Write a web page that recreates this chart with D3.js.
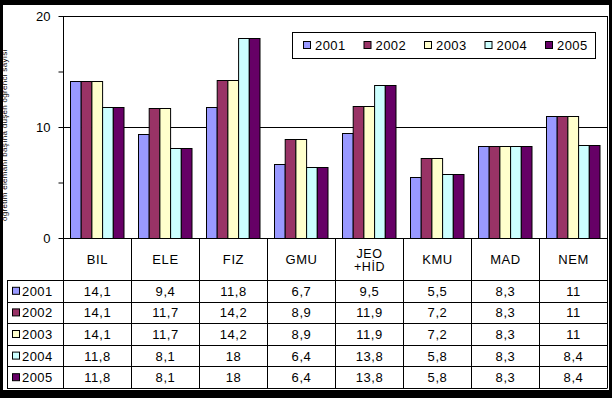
<!DOCTYPE html>
<html lang="tr">
<head>
<meta charset="UTF-8">
<title>Bölümlere göre oranlar 2001-2005</title>
<script src="https://d3js.org/d3.v7.min.js"></script>
<style>
    body { margin: 0; padding: 0; background: #000; }
    svg text { font-family: "Liberation Sans", Arial, sans-serif; fill: #000; }
</style>
</head>
<body>
<div id="chart"></div>
<script>
    // chart data
    const categories = ["BIL", "ELE", "FIZ", "GMU", "JEO\n+HİD", "KMU", "MAD", "NEM"];
    const years = ["2001", "2002", "2003", "2004", "2005"];
    const s2001 = [14.1, 9.4, 11.8, 6.7, 9.5, 5.5, 8.3, 11];
    const s2002 = [14.1, 11.7, 14.2, 8.9, 11.9, 7.2, 8.3, 11];
    const s2003 = [14.1, 11.7, 14.2, 8.9, 11.9, 7.2, 8.3, 11];
    const s2004 = [11.8, 8.1, 18, 6.4, 13.8, 5.8, 8.3, 8.4];
    const s2005 = [11.8, 8.1, 18, 6.4, 13.8, 5.8, 8.3, 8.4];
    const yTickLabels = [0, 10, 20];
    const yMinorTicks = [5, 15];
    const yTitle = "öğretim elemanı başına düşen öğrenci sayısı";

    const series = [s2001, s2002, s2003, s2004, s2005];
    const colors = ["#9999FF", "#993366", "#FFFFCC", "#CCFFFF", "#660066"];

    const W = 612, H = 398;
    const plot = { left: 63.5, right: 607.5, top: 16, bottom: 238 };
    const tableBottom = 388, headerBottom = 280;

    const svg = d3.select("#chart").append("svg")
        .attr("width", W).attr("height", H);

    // white chart area inside black frame
    svg.append("rect")
        .attr("x", 3).attr("y", 5)
        .attr("width", 606).attr("height", 385)
        .attr("fill", "#fff");

    svg.append("clipPath").attr("id", "inner")
        .append("rect")
        .attr("x", 3).attr("y", 5)
        .attr("width", 606).attr("height", 385);

    const x = d3.scaleBand()
        .domain(categories)
        .range([plot.left, plot.right]);

    const xs = d3.scaleBand()
        .domain(years)
        .range([7, x.bandwidth() - 7.5]);

    const y = d3.scaleLinear()
        .domain([0, 20])
        .range([plot.bottom, plot.top]);

    // gridlines
    svg.append("g")
        .selectAll("line")
        .data(yTickLabels.filter(d => d > 0))
        .enter().append("line")
        .attr("x1", plot.left).attr("x2", plot.right)
        .attr("y1", d => Math.round(y(d)) + 0.5)
        .attr("y2", d => Math.round(y(d)) + 0.5)
        .attr("stroke", "#000");

    // bars
    const groups = svg.append("g")
        .selectAll("g")
        .data(categories)
        .enter().append("g")
        .attr("transform", d => `translate(${x(d)},0)`);

    groups.selectAll("rect")
        .data((c, i) => years.map((yr, k) => ({ yr: yr, v: series[k][i], k: k })))
        .enter().append("rect")
        .attr("x", d => xs(d.yr))
        .attr("y", d => Math.round(y(d.v)) + 0.5)
        .attr("width", xs.bandwidth())
        .attr("height", d => Math.round(y(0)) - Math.round(y(d.v)))
        .attr("fill", d => colors[d.k])
        .attr("stroke", "#000")
        .attr("stroke-width", 1);

    // right border of plot
    svg.append("line")
        .attr("x1", plot.right).attr("x2", plot.right)
        .attr("y1", plot.top).attr("y2", tableBottom)
        .attr("stroke", "#000");

    // y axis
    const yAxis = d3.axisLeft(y)
        .tickValues(yTickLabels.concat(yMinorTicks))
        .tickSize(5)
        .tickPadding(8)
        .tickFormat(d => yTickLabels.includes(d) ? d : "");

    const ay = svg.append("g")
        .attr("transform", `translate(${plot.left},0)`)
        .call(yAxis);
    ay.select(".domain").remove();
    ay.selectAll("line").attr("stroke", "#000");
    ay.selectAll("text")
        .attr("font-size", 13)
        .attr("font-family", "Liberation Sans, Arial, sans-serif");

    // axis line runs down through the table
    svg.append("line")
        .attr("x1", plot.left).attr("x2", plot.left)
        .attr("y1", plot.top).attr("y2", tableBottom)
        .attr("stroke", "#000");

    // y title (small, rotated, partly cut by the frame)
    svg.append("g").attr("clip-path", "url(#inner)")
        .append("text")
        .attr("transform", `translate(7,${(plot.top + plot.bottom) / 2 + 8}) rotate(-90)`)
        .attr("text-anchor", "middle")
        .attr("font-size", 8)
        .attr("letter-spacing", 0.3)
        .text(yTitle);

    // data table
    const rowY = d3.scaleBand()
        .domain(years)
        .range([headerBottom, tableBottom]);

    const table = svg.append("g");

    // category separators
    table.selectAll("line.sep")
        .data(categories.slice(1))
        .enter().append("line")
        .attr("class", "sep")
        .attr("x1", d => x(d)).attr("x2", d => x(d))
        .attr("y1", plot.bottom).attr("y2", tableBottom)
        .attr("stroke", "#000");

    // bottom of plot / top of header
    table.append("line")
        .attr("x1", plot.left).attr("x2", plot.right)
        .attr("y1", Math.round(y(0)) + 0.5).attr("y2", Math.round(y(0)) + 0.5)
        .attr("stroke", "#000");

    // row lines
    table.selectAll("line.row")
        .data(years.map(d => rowY(d)).concat([tableBottom]))
        .enter().append("line")
        .attr("class", "row")
        .attr("x1", 7).attr("x2", plot.right)
        .attr("y1", d => Math.round(d) + 0.5).attr("y2", d => Math.round(d) + 0.5)
        .attr("stroke", "#000");

    table.append("line")
        .attr("x1", 7.5).attr("x2", 7.5)
        .attr("y1", headerBottom).attr("y2", tableBottom)
        .attr("stroke", "#000");

    // category labels
    table.selectAll("g.cat")
        .data(categories)
        .enter().append("g")
        .attr("class", "cat")
        .each(function (d) {
            const lines = d.split("\n");
            const g = d3.select(this);
            const cx = x(d) + x.bandwidth() / 2;
            const cy = (plot.bottom + headerBottom) / 2;
            lines.forEach((ln, i) => {
                g.append("text")
                    .attr("x", cx)
                    .attr("y", cy + 5 + (i - (lines.length - 1) / 2) * 13)
                    .attr("text-anchor", "middle")
                    .attr("font-size", lines.length > 1 ? 12.5 : 13)
                    .attr("letter-spacing", 0.6)
                    .text(ln);
            });
        });

    // row keys
    const rows = table.selectAll("g.rowg")
        .data(years)
        .enter().append("g")
        .attr("class", "rowg")
        .attr("transform", d => `translate(0,${rowY(d)})`);

    rows.append("rect")
        .attr("x", 12.5).attr("y", rowY.bandwidth() / 2 - 3.5)
        .attr("width", 7).attr("height", 7)
        .attr("fill", (d, i) => colors[i])
        .attr("stroke", "#000");

    rows.append("text")
        .attr("x", 22)
        .attr("y", rowY.bandwidth() / 2 + 5)
        .attr("font-size", 13)
        .attr("letter-spacing", 0.4)
        .text(d => d);

    // cell values
    rows.selectAll("text.val")
        .data((yr, k) => categories.map((c, i) => ({ c: c, v: series[k][i] })))
        .enter().append("text")
        .attr("class", "val")
        .attr("x", d => x(d.c) + x.bandwidth() / 2)
        .attr("y", rowY.bandwidth() / 2 + 5)
        .attr("text-anchor", "middle")
        .attr("font-size", 13)
        .attr("letter-spacing", 0.6)
        .text(d => String(d.v).replace(".", ","));

    // legend
    const legend = svg.append("g");
    legend.append("rect")
        .attr("x", 292.5).attr("y", 32.5)
        .attr("width", 303).attr("height", 26)
        .attr("fill", "#fff")
        .attr("stroke", "#000");

    const li = legend.selectAll("g.li")
        .data(years)
        .enter().append("g")
        .attr("class", "li")
        .attr("transform", (d, i) => `translate(${303 + i * 60.5},0)`);

    li.append("rect")
        .attr("x", 0.5).attr("y", 41.5)
        .attr("width", 7).attr("height", 7)
        .attr("fill", (d, i) => colors[i])
        .attr("stroke", "#000");

    li.append("text")
        .attr("x", 12)
        .attr("y", 50)
        .attr("font-size", 13)
        .attr("letter-spacing", 0.4)
        .text(d => d);
</script>
</body>
</html>
